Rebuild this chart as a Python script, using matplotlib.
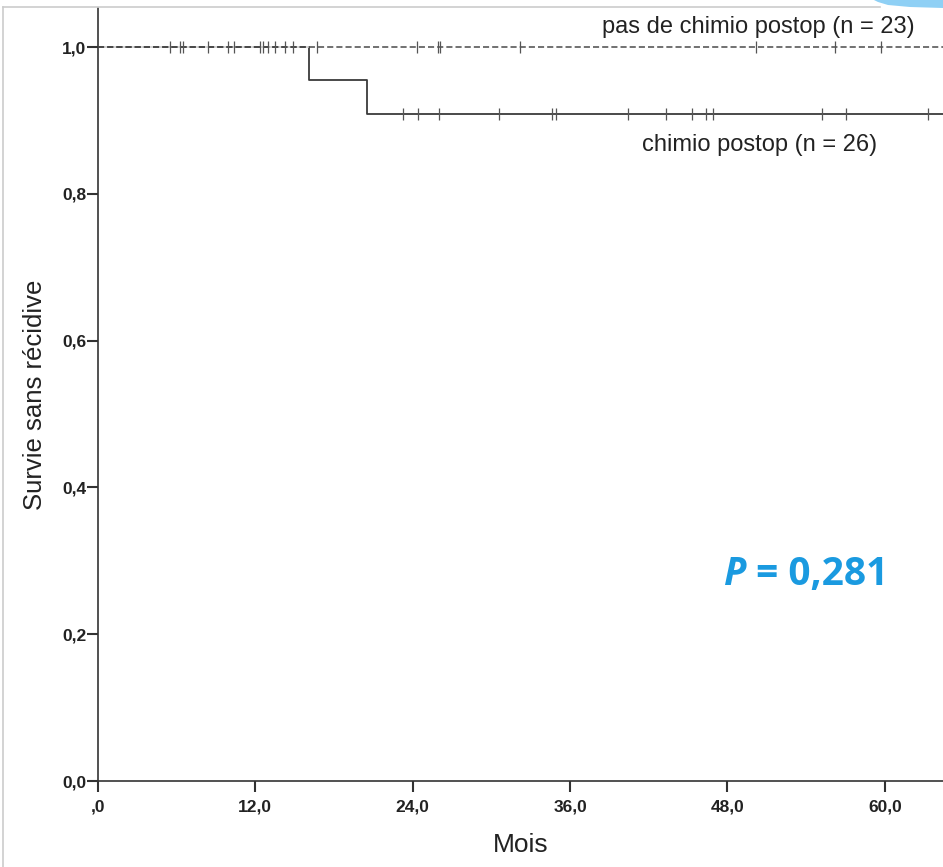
import matplotlib.pyplot as plt
import numpy as np
from matplotlib.patches import Polygon
from matplotlib.lines import Line2D

plt.rcParams['font.family'] = ['Liberation Sans', 'DejaVu Sans']

# Kaplan-Meier steps, chimio postop (n = 26)
chimio_t = [0, 16.1, 20.5, 64.5]
chimio_s = [1.0, 0.955, 0.909, 0.909]
chimio_cens = [23.3, 24.4, 26.0, 30.6, 34.65, 34.9, 40.4, 43.3, 45.3, 46.4,
               46.9, 55.2, 57.0, 63.3]

# pas de chimio postop (n = 23), no event
pas_t = [0, 64.5]
pas_s = [1.0, 1.0]
pas_cens = [5.5, 6.3, 6.5, 8.4, 9.9, 10.4, 12.4, 12.6, 13.0, 13.5, 14.3, 14.9,
            16.7, 24.3, 25.9, 26.1, 32.2, 50.2, 56.2, 59.7]

xticks = [0, 12, 24, 36, 48, 60]
xlabels = [',0', '12,0', '24,0', '36,0', '48,0', '60,0']
yticks = [0, 0.2, 0.4, 0.6, 0.8, 1.0]
ylabels = ['0,0', '0,2', '0,4', '0,6', '0,8', '1,0']

W, H = 943, 867
fig = plt.figure(figsize=(W / 100, H / 100), dpi=100)
ax = fig.add_axes([97.7 / W, 86 / H, (W - 97.7) / W, 773 / H])

ax.step(chimio_t, chimio_s, where='post', color='#3a3a3a', lw=1.3, zorder=2)
ax.plot(chimio_cens, np.interp(chimio_cens, chimio_t, chimio_s),
        ls='none', marker='|', ms=8, mew=0.9, color='#555555', zorder=3)

ax.step(pas_t, pas_s, where='post', color='#4a4a4a', lw=1.1,
        ls=(0, (4, 2)), gapcolor='white', zorder=4)
ax.plot(pas_cens, [1.0] * len(pas_cens), ls='none', marker='|', ms=8,
        mew=0.9, color='#555555', zorder=5)

ax.set_xlim(0, (W - 97.7) / 13.12)
ax.set_ylim(0, 1 + 39 / 734)
ax.spines['top'].set_visible(False)
ax.spines['right'].set_visible(False)
for s in ('left', 'bottom'):
    ax.spines[s].set_color('#333333')
    ax.spines[s].set_linewidth(1.2)

ax.set_xticks(xticks)
ax.set_xticklabels(xlabels, fontweight='bold', fontsize=12.5, color='#222222')
ax.set_yticks(yticks)
ax.set_yticklabels(ylabels, fontweight='bold', fontsize=12.5, color='#222222')
ax.tick_params(length=8, width=1.5, color='#333333')
ax.tick_params(axis='x', pad=5)
ax.tick_params(axis='y', pad=0)

ax.set_xlabel('Mois', fontsize=19, color='#222222', labelpad=14)
ax.set_ylabel('Survie sans récidive', fontsize=18.5, color='#222222',
              labelpad=11)

ax.text(62.3, 1.027, 'pas de chimio postop (n = 23)', fontsize=17,
        ha='right', va='center', color='#222222')
ax.text(59.4, 0.866, 'chimio postop (n = 26)', fontsize=17,
        ha='right', va='center', color='#222222')

blue = '#1a9ae0'
tp = ax.text(47.7, 0.282, 'P', fontsize=28, fontweight='bold',
             fontstyle='italic', color=blue, ha='left', va='center',
             family='Open Sans')
ax.annotate(' = 0,281', xy=(1, 0), xycoords=tp, fontsize=28,
            fontweight='bold', color=blue, ha='left', va='bottom',
            family='Open Sans')

# page frame and corner decoration
fig.add_artist(Line2D([3 / W, 3 / W], [0, 1 - 7 / H], color='#cccccc', lw=1.2))
fig.add_artist(Line2D([3 / W, 880 / W], [1 - 7 / H, 1 - 7 / H],
                      color='#cccccc', lw=1.2))
pts = [(874, 0), (943, 0), (943, 8), (910, 7), (888, 5), (878, 2)]
fig.add_artist(Polygon([(x / W, 1 - y / H) for x, y in pts], closed=True,
                       color='#8fd0f5', lw=0))

fig.savefig('out.png', dpi=100)
